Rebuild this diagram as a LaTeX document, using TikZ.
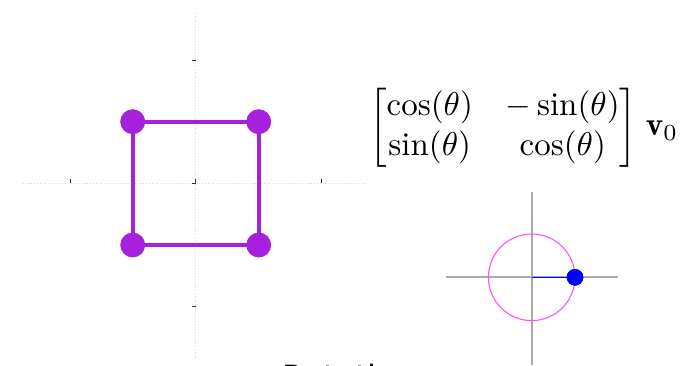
\documentclass[tikz,border=0pt]{standalone}
\usepackage{amsmath}
\usepackage{graphicx}
\usepackage{fontspec}
\newfontfamily\labelfont{DejaVu Sans}
\definecolor{sqpurple}{RGB}{166,32,222}
\definecolor{gridgray}{RGB}{215,215,215}
\definecolor{axgray}{RGB}{170,170,170}
\definecolor{circmag}{RGB}{255,80,255}
\tikzset{
  gridline/.style={gridgray, line width=0.8pt, dotted},
  tickmark/.style={black!80, line width=0.9pt},
  edge/.style={sqpurple, line width=3.6pt},
  vertex/.style={circle, fill=sqpurple, inner sep=0pt, minimum size=24.6pt},
  smallaxis/.style={axgray, line width=1.8pt},
}
\begin{document}
\begin{tikzpicture}[x=1pt,y=-1pt]
\useasboundingbox (0,0) rectangle (697,365);
\clip (0,0) rectangle (697,365);
% grid / axes of main plot
\coordinate (hl) at (23,183);
\coordinate (hr) at (367,183);
\coordinate (vt) at (195.7,13);
\coordinate (vb) at (195.7,358);
\draw[gridline] (hl) -- (hr);
\draw[gridline] (vt) -- (vb);
% ticks
\foreach \tx in {70,195.7,321.7}{
  \draw[tickmark] (\tx,183) -- (\tx,179);
}
\foreach \ty in {60,183,306}{
  \draw[tickmark] (195.7,\ty) -- (191.7,\ty);
}
% square
\node[vertex] (a) at (132.7,121.7) {};
\node[vertex] (b) at (258.7,121.7) {};
\node[vertex] (c) at (258.7,245) {};
\node[vertex] (d) at (132.7,245) {};
\draw[edge] (a.center) -- (b.center) -- (c.center) -- (d.center) -- cycle;
\foreach \n in {a,b,c,d}{ \fill[sqpurple] (\n) circle[radius=12.3pt]; }
% matrix
\node[anchor=west, inner sep=0pt] (m) at (369,127.5) {\scalebox{3.3}{$\begin{bmatrix}\cos(\theta) & -\sin(\theta)\\ \sin(\theta) & \cos(\theta)\end{bmatrix}\hspace{1pt}\mathbf{v}_0$}};
% small rotation plot
\coordinate (sc) at (531.7,277.3);
\coordinate (st) at (531.7,192);
\coordinate (sb) at (531.7,365);
\coordinate (sl) at (445.7,277.3);
\coordinate (sr) at (618,277.3);
\draw[smallaxis] (sl) -- (sr);
\draw[smallaxis] (st) -- (sb);
\draw[circmag, line width=1.1pt] (sc) circle[radius=43.3pt];
\node[circle, fill=blue, inner sep=0pt, minimum size=16.6pt] (p) at (575,277.3) {};
\draw[blue, line width=1.3pt] (sc) -- (p.center);
\fill[blue] (p) circle[radius=8.3pt];
% title (cut off at the bottom edge, as in the reference)
\node[anchor=base west, inner sep=0pt, font=\labelfont\fontsize{32}{38}\selectfont] (t) at (282.5,388.5) {Rotation};
\end{tikzpicture}
\end{document}
